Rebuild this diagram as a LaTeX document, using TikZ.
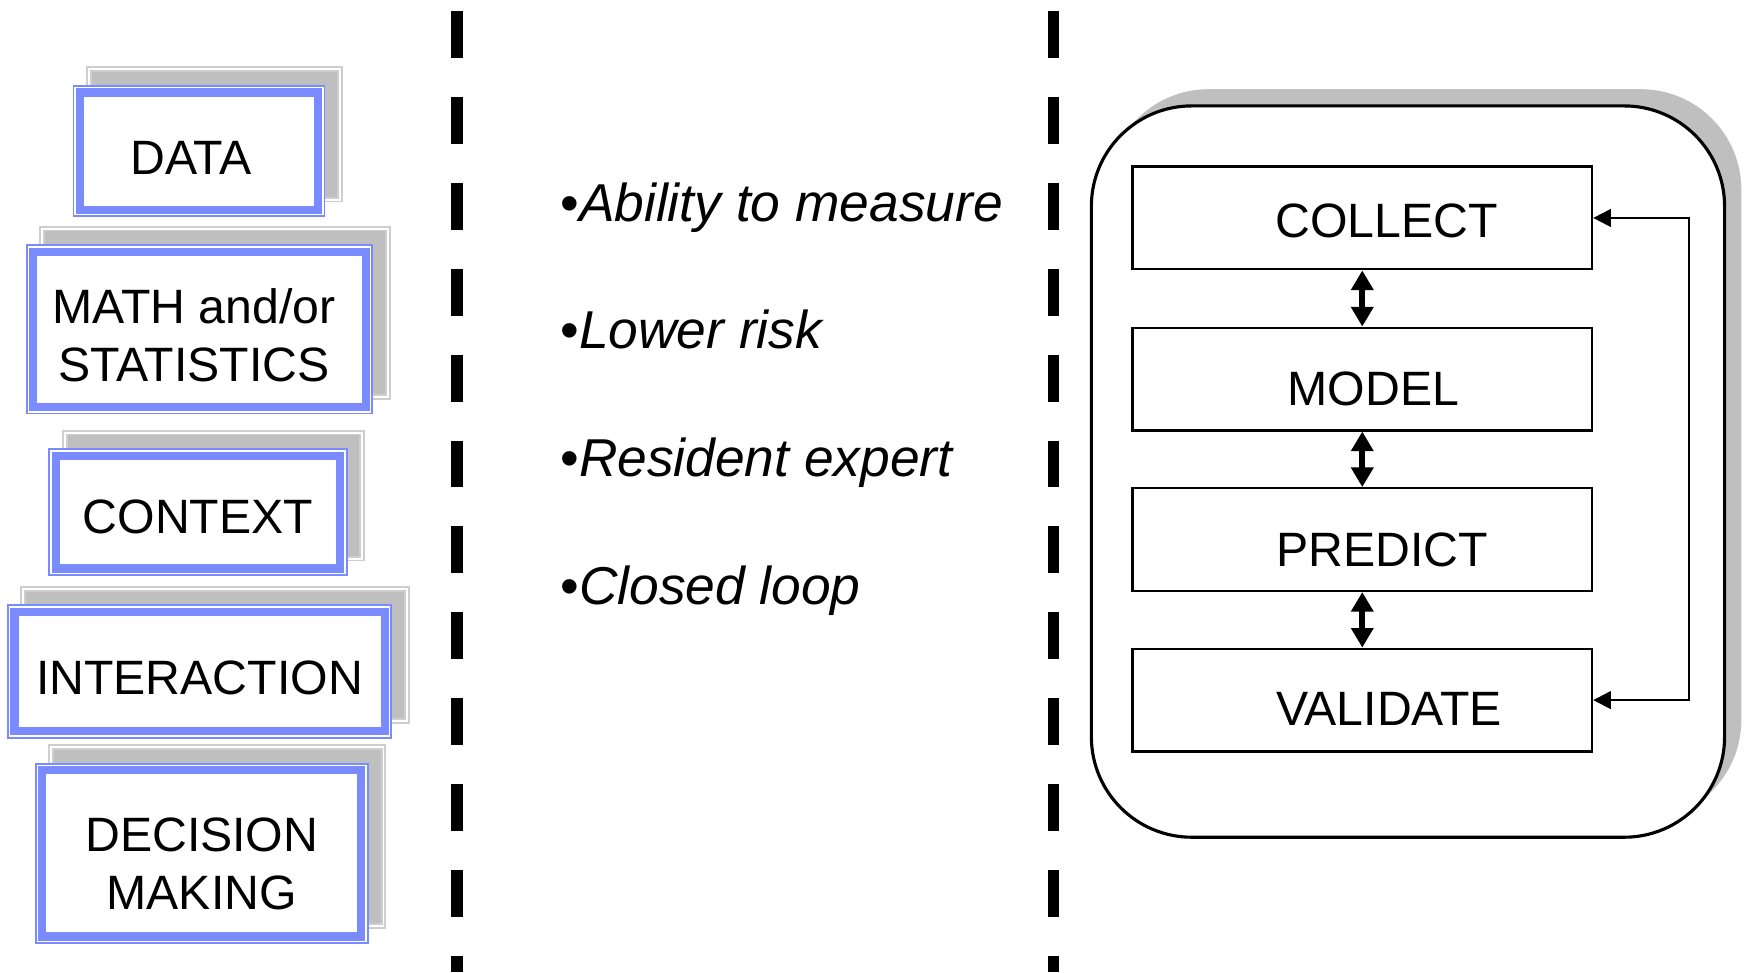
\documentclass[tikz,border=0pt]{standalone}
\usepackage{fontspec}
\setmainfont{Liberation Sans}
\usetikzlibrary{arrows.meta,positioning}
\definecolor{periwinkle}{RGB}{122, 138, 255}
\definecolor{shadowgrey}{RGB}{191, 191, 191}
\definecolor{shadowline}{RGB}{206, 206, 206}

\begin{document}
\begin{tikzpicture}
  [
    x=0.01cm, y=-0.01cm,
    topic/.style={draw=periwinkle, line width=2.1pt, fill=white, inner sep=0pt},
    topictext/.style={align=center, font=\fontsize{12.3}{14.8}\selectfont},
    rim/.style={draw=periwinkle, line width=0.45pt, fill=white},
    backing/.style={draw=shadowline, double=white, double distance=0.5pt, line width=0.5pt, fill=shadowgrey},
    divider/.style={line width=3pt, dash pattern=on 0.42cm off 0.35cm},
    stage/.style={draw, line width=0.6pt, minimum width=4.12cm, minimum height=0.92cm, inner sep=0pt},
    stagetext/.style={font=\fontsize{12.3}{14}\selectfont},
    link/.style={{Triangle[length=5pt,width=5.5pt]}-{Triangle[length=5pt,width=5.5pt]}, line width=1.5pt},
    feedback/.style={{Triangle[length=4.5pt,width=4.5pt]}-{Triangle[length=4.5pt,width=4.5pt]}, line width=0.55pt},
    point/.style={anchor=base west, inner sep=0pt, font=\fontsize{13.6}{16}\selectfont}
  ]
  \useasboundingbox (0,0) rectangle (1568,872);

  % left column
  \draw[backing] (80,62) rectangle (305,179);
  \draw[rim] (66,77) rectangle (291,194);
  \node[topic, minimum width=2.13cm, minimum height=1.05cm,
    label={[topictext, xshift=-0.07cm, yshift=-0.06cm]center:DATA}] (data) at (178.5,135.5) {};

  \draw[backing] (38,205) rectangle (348,356);
  \draw[rim] (24,220) rectangle (334,371);
  \node[topic, minimum width=2.98cm, minimum height=1.39cm,
    label={[topictext, xshift=-0.05cm, yshift=-0.05cm]center:MATH and/or\\STATISTICS}] (math) at (179,295.5) {};

  \draw[backing] (58,388) rectangle (325,501);
  \draw[rim] (44,403) rectangle (311,516);
  \node[topic, minimum width=2.55cm, minimum height=1.01cm,
    label={[topictext, yshift=-0.04cm]center:CONTEXT}] (context) at (177.5,459.5) {};

  \draw[backing] (21,528) rectangle (365,647);
  \draw[rim] (7,543) rectangle (351,662);
  \node[topic, minimum width=3.32cm, minimum height=1.07cm,
    label={[topictext, yshift=-0.055cm]center:INTERACTION}] (interaction) at (179,602.5) {};

  \draw[backing] (46,670) rectangle (344,831);
  \draw[rim] (32,685) rectangle (330,846);
  \node[topic, minimum width=2.86cm, minimum height=1.49cm,
    label={[topictext, yshift=-0.09cm]center:DECISION\\MAKING}] (decision) at (181,765.5) {};

  % dividers
  \draw[divider] (410,10) -- (410,872);
  \draw[divider] (945,10) -- (945,872);

  % middle column
  \node[point] (measure) at (502,199) {•\textit{Ability to measure}};
  \node[point] (risk) at (502,313) {•\textit{Lower risk}};
  \node[point] (expert) at (502,427) {•\textit{Resident expert}};
  \node[point] (closed) at (502,542) {•\textit{Closed loop}};

  % right panel
  \draw[fill=shadowgrey, draw=none, rounded corners=0.9cm] (994,80) rectangle (1562,736);
  \draw[fill=white, line width=0.8pt, rounded corners=0.9cm] (979,95) rectangle (1547,751);

  \node[stage, label={[stagetext, xshift=0.22cm, yshift=-0.03cm]center:COLLECT}] (collect) at (1222,195.5) {};
  \node[stage, label={[stagetext, xshift=0.10cm, yshift=-0.09cm]center:MODEL}] (model) at (1222,340) {};
  \node[stage, label={[stagetext, xshift=0.18cm, yshift=-0.09cm]center:PREDICT}] (predict) at (1222,484) {};
  \node[stage, label={[stagetext, xshift=0.24cm, yshift=-0.08cm]center:VALIDATE}] (validate) at (1222,628) {};

  \draw[link] (collect) -- (model);
  \draw[link] (model) -- (predict);
  \draw[link] (predict) -- (validate);
  \draw[feedback] (collect.east) -- ++(86,0) |- (validate.east);

\end{tikzpicture}
\end{document}
